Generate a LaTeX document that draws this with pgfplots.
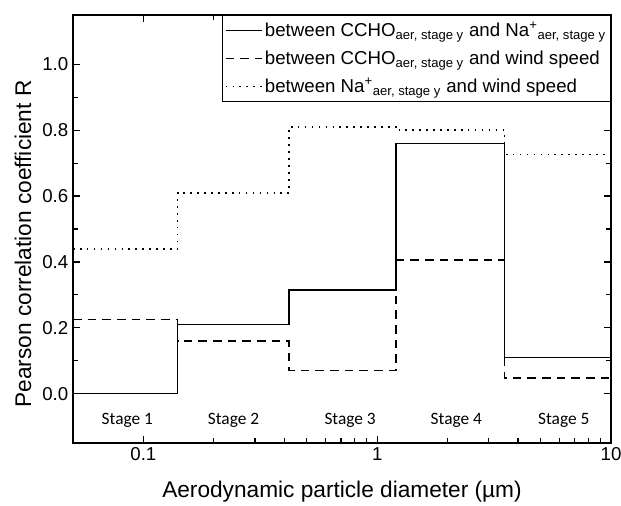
\documentclass[border=0pt]{standalone}
\usepackage{fontspec}
\setmainfont{Liberation Sans}
\newfontfamily\calibri{Carlito}
\usepackage{pgfplots}
\pgfplotsset{compat=1.18}
\pgfplotstableread{
x      a     b     c
0.05   0.00  0.225 0.44
0.14   0.21  0.16  0.61
0.42   0.315 0.07  0.81
1.2    0.76  0.405 0.80
3.5    0.11  0.048 0.726
10     0.11  0.048 0.726
}\datatable
\begin{document}
\begin{tikzpicture}
\useasboundingbox (-54.75pt,-47.25pt) rectangle (411pt,332.25pt);
\begin{axis}[
 scale only axis, width=403.5pt, height=321pt,
 xmode=log, xmin=0.05, xmax=10, ymin=-0.15, ymax=1.15,
 xtick={0.1,1,10}, xticklabels={0.1,1,10},
 ytick={0,0.2,0.4,0.6,0.8,1.0}, minor y tick num=1,
 yticklabel style={/pgf/number format/.cd, fixed, fixed zerofill, precision=1},
 /pgf/number format/assume math mode=true,
 tick label style={font=\fontsize{14}{16}\selectfont},
 xlabel={Aerodynamic particle diameter (µm)},
 ylabel={Pearson correlation coefficient R},
 xlabel style={font=\fontsize{17}{19}\selectfont, at={(axis description cs:0.5,-0.1145)}, anchor=center},
 ylabel style={font=\fontsize{17}{19}\selectfont, at={(axis description cs:-0.093,0.465)}, anchor=center},
 axis line style={line width=1.1pt},
 major tick length=5.25pt, minor tick length=3.5pt,
 every tick/.style={black, line width=0.9pt},
 legend style={at={(1,1)}, anchor=north east, font=\fontsize{14}{16}\selectfont,
   draw=black, line width=0.8pt, cells={anchor=west}, inner xsep=1.5pt, inner ysep=3pt, row sep=5pt},
 legend image code/.code={\draw[#1, line width=1pt] (0pt,0pt) -- (27pt,0pt);},
 clip=false,
]
\addplot[black, line width=1.2pt, const plot] table[x=x, y=a] {\datatable};
\addlegendentry{between CCHO\textsubscript{aer, stage y} and Na\textsuperscript{+}\textsubscript{aer, stage y}}
\addplot[black, line width=1.2pt, const plot, dash pattern=on 6.5pt off 4.5pt] table[x=x, y=b] {\datatable};
\addlegendentry{between CCHO\textsubscript{aer, stage y} and wind speed}
\addplot[black, line width=1.2pt, const plot, dash pattern=on 1.2pt off 4pt] table[x=x, y=c] {\datatable};
\addlegendentry{between Na\textsuperscript{+}\textsubscript{aer, stage y} and wind speed}
\node[font=\calibri\fontsize{13}{15}\selectfont] at (axis cs:0.0854,-0.08) {Stage 1};
\node[font=\calibri\fontsize{13}{15}\selectfont] at (axis cs:0.243,-0.08) {Stage 2};
\node[font=\calibri\fontsize{13}{15}\selectfont] at (axis cs:0.766,-0.08) {Stage 3};
\node[font=\calibri\fontsize{13}{15}\selectfont] at (axis cs:2.18,-0.08) {Stage 4};
\node[font=\calibri\fontsize{13}{15}\selectfont] at (axis cs:6.28,-0.08) {Stage 5};
\end{axis}
\end{tikzpicture}
\end{document}
